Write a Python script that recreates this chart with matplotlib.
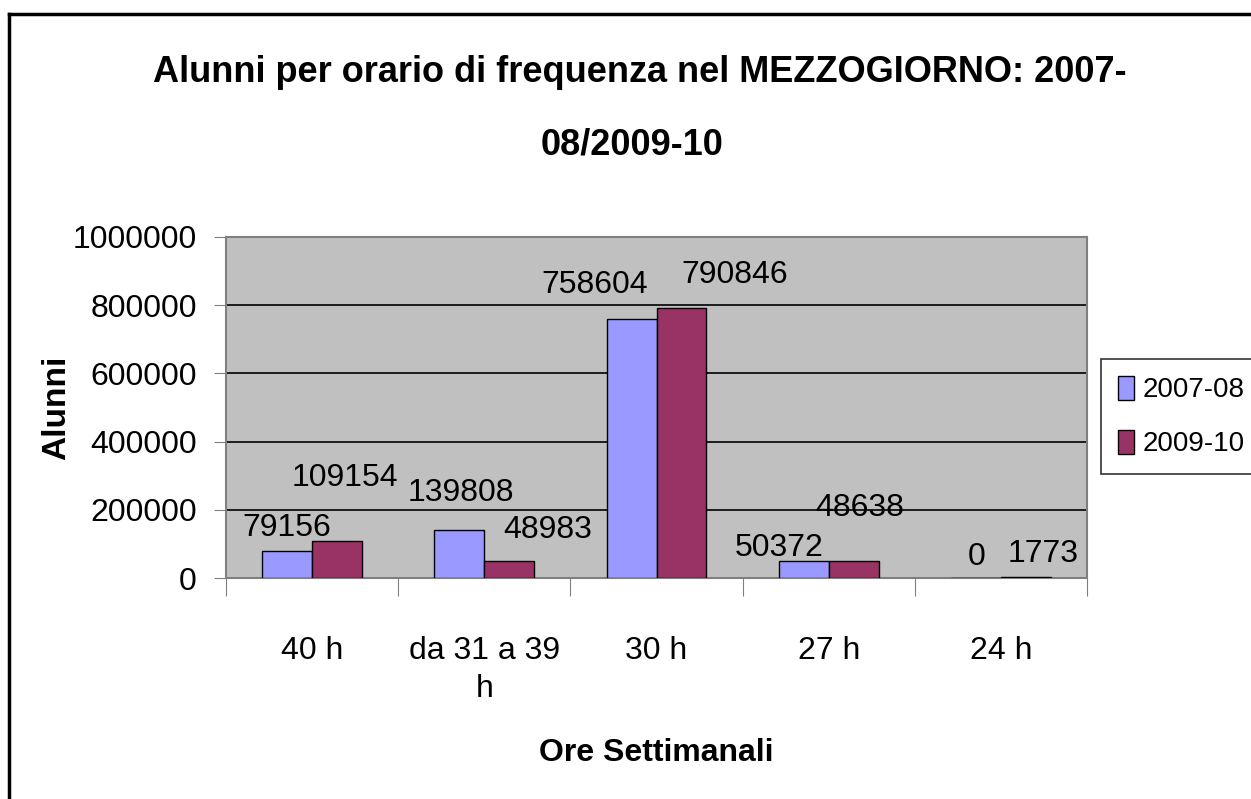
import numpy as np
import matplotlib
matplotlib.use('Agg')
import matplotlib.pyplot as plt
from matplotlib import font_manager
from matplotlib.lines import Line2D

categories = ['40 h', 'da 31 a 39\nh', '30 h', '27 h', '24 h']
series_names = ['2007-08', '2009-10']
values_0708 = [79156, 139808, 758604, 50372, 0]
values_0910 = [109154, 48983, 790846, 48638, 1773]
yticks = [0, 200000, 400000, 600000, 800000, 1000000]

# label offsets in pixels (dx, dy) from the top centre of each bar
offs_0708 = [(0, 23), (2, 37), (-37, 34), (-25, 13), (1, 21)]
offs_0910 = [(8, 63), (38, 31), (53, 33), (6, 53), (17, 23)]

names = {f.name for f in font_manager.fontManager.ttflist}
fam = 'Liberation Sans Narrow' if 'Liberation Sans Narrow' in names else 'Liberation Sans'
plt.rcParams['font.family'] = [fam, 'DejaVu Sans']
fs = 23

W, H = 1251, 799
fig = plt.figure(figsize=(W / 100, H / 100), dpi=100)
ax = fig.add_axes([226 / W, 1 - 578 / H, 861 / W, 341 / H])
ax.set_facecolor('#c0c0c0')

x = np.arange(len(categories))
bw = 0.29
b1 = ax.bar(x - bw / 2, values_0708, bw, color='#9999ff', edgecolor='black', linewidth=1, label=series_names[0], zorder=3)
b2 = ax.bar(x + bw / 2, values_0910, bw, color='#993366', edgecolor='black', linewidth=1, label=series_names[1], zorder=3)

for bars, vals, offs in [(b1, values_0708, offs_0708), (b2, values_0910, offs_0910)]:
    for r, v, (dx, dy) in zip(bars, vals, offs):
        ax.annotate(str(v), (r.get_x() + r.get_width() / 2, v), xytext=(dx, dy),
                    textcoords='offset pixels', ha='center', va='center', fontsize=fs)

ax.set_xlim(-0.5, len(categories) - 0.5)
ax.set_ylim(0, 1000000)
ax.set_yticks(yticks)
ax.set_yticklabels([str(t) for t in yticks], fontsize=fs)
ax.yaxis.grid(True, color='black', linewidth=1.2, zorder=1)
ax.set_axisbelow(True)
ax.tick_params(axis='y', length=9, color='#808080', pad=12)

ax.set_xticks(np.arange(len(categories) + 1) - 0.5)
ax.set_xticklabels([])
ax.set_xticks(x, minor=True)
ax.set_xticklabels(categories, minor=True, fontsize=fs, linespacing=1.35)
ax.tick_params(axis='x', which='major', length=13, color='#808080')
ax.tick_params(axis='x', which='minor', length=0, pad=42)

for s in ax.spines.values():
    s.set_color('#808080')
    s.set_linewidth(1.5)

ax.set_ylabel('Alunni', fontsize=24, fontweight='bold')
ax.yaxis.set_label_coords(-0.179, 0.5)
ax.set_xlabel('Ore Settimanali', fontsize=fs, fontweight='bold', labelpad=24)

fig.text(640 / W, 1 - 72 / H, 'Alunni per orario di frequenza nel MEZZOGIORNO: 2007-',
         ha='center', va='center', fontsize=26, fontweight='bold')
fig.text(632 / W, 1 - 145 / H, '08/2009-10',
         ha='center', va='center', fontsize=26, fontweight='bold')

leg = fig.legend(handles=[b1, b2], loc='upper left', bbox_to_anchor=(1101 / W, 1 - 359 / H),
                 fontsize=20, frameon=True, fancybox=False, edgecolor='black',
                 handlelength=0.6, handleheight=0.95, handletextpad=0.3, borderpad=0.6,
                 labelspacing=0.95, borderaxespad=0)
leg.get_frame().set_linewidth(1.2)

# figure border (left and top edges visible)
fig.add_artist(Line2D([9 / W, 9 / W], [0, 1 - 14 / H], color='black', linewidth=2.5, transform=fig.transFigure))
fig.add_artist(Line2D([9 / W, 1], [1 - 14 / H, 1 - 14 / H], color='black', linewidth=2.5, transform=fig.transFigure))

fig.savefig('out.png', dpi=100)
